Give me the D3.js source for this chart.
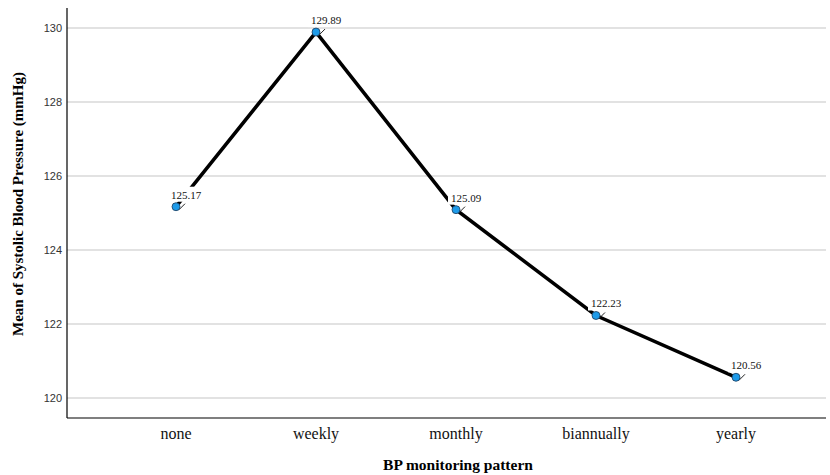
<!DOCTYPE html>
<html>
<head>
<meta charset="utf-8">
<script src="https://cdn.jsdelivr.net/npm/d3@7"></script>
<style>
  body { margin: 0; background: #fff; }
</style>
</head>
<body>
<script>
// data
var patterns = ["none", "weekly", "monthly", "biannually", "yearly"];
var meanSBP = [125.17, 129.89, 125.09, 122.23, 120.56];
var yTicks = [120, 122, 124, 126, 128, 130];

function main(){
    var canvasWidth = 830;
    var canvasHeight = 475;

    var svg = d3.select("body").append("svg")
        .attr("width", canvasWidth)
        .attr("height", canvasHeight);

    var left = 67, right = 826, top = 8, bottom = 418;

    var yScale = d3.scaleLinear().domain([120, 130]).range([398, 28]);
    var xScale = d3.scalePoint().domain(patterns).range([176, 736]);

    var data = patterns.map(function(p, i){ return {cat: p, val: meanSBP[i]}; });

    // gridlines
    svg.append("g")
        .selectAll("line")
        .data(yTicks)
        .enter().append("line")
        .attr("x1", left)
        .attr("x2", right)
        .attr("y1", d => yScale(d))
        .attr("y2", d => yScale(d))
        .attr("stroke", "#c6c6c6")
        .attr("stroke-width", 1.2);

    // y axis tick labels
    svg.append("g")
        .selectAll("text")
        .data(yTicks)
        .enter().append("text")
        .attr("x", 62)
        .attr("y", d => yScale(d) + 4)
        .attr("text-anchor", "end")
        .attr("font-family", "Liberation Sans, Arial, sans-serif")
        .attr("font-size", "11px")
        .attr("fill", "#333")
        .text(d => d);

    // axes lines
    svg.append("line")
        .attr("x1", left).attr("x2", left)
        .attr("y1", top).attr("y2", bottom)
        .attr("stroke", "#000").attr("stroke-width", 1.2);
    svg.append("line")
        .attr("x1", left).attr("x2", right)
        .attr("y1", bottom).attr("y2", bottom)
        .attr("stroke", "#000").attr("stroke-width", 1.2);

    // category labels
    svg.append("g")
        .selectAll("text")
        .data(patterns)
        .enter().append("text")
        .attr("x", d => xScale(d))
        .attr("y", 439)
        .attr("text-anchor", "middle")
        .attr("font-family", "Liberation Serif, Times New Roman, serif")
        .attr("font-size", "16px")
        .attr("fill", "#111")
        .text(d => d);

    // axis titles
    svg.append("text")
        .attr("x", 458)
        .attr("y", 470)
        .attr("text-anchor", "middle")
        .attr("font-family", "Liberation Serif, Times New Roman, serif")
        .attr("font-size", "15.5px")
        .attr("font-weight", "bold")
        .text("BP monitoring pattern");

    svg.append("text")
        .attr("transform", "translate(23," + 204 + ") rotate(-90)")
        .attr("text-anchor", "middle")
        .attr("font-family", "Liberation Serif, Times New Roman, serif")
        .attr("font-size", "15px")
        .attr("font-weight", "bold")
        .text("Mean of Systolic Blood Pressure (mmHg)");

    // the line
    var line = d3.line()
        .x(d => xScale(d.cat))
        .y(d => yScale(d.val));

    svg.append("path")
        .datum(data)
        .attr("d", line)
        .attr("fill", "none")
        .attr("stroke", "#000")
        .attr("stroke-width", 3.5);

    // value labels with white boxes
    var labels = svg.append("g")
        .selectAll("g")
        .data(data)
        .enter().append("g")
        .attr("transform", d => "translate(" + (xScale(d.cat) + 10) + "," + (yScale(d.val) - 8) + ")");

    labels.append("rect")
        .attr("x", -18)
        .attr("y", -12)
        .attr("width", 39)
        .attr("height", 15)
        .attr("fill", "#fff");

    labels.append("text")
        .attr("text-anchor", "middle")
        .attr("font-family", "Liberation Serif, Times New Roman, serif")
        .attr("font-size", "11px")
        .attr("fill", "#111")
        .text(d => d.val.toFixed(2));

    // leader lines
    svg.append("g")
        .selectAll("line")
        .data(data)
        .enter().append("line")
        .attr("x1", d => xScale(d.cat) + 3)
        .attr("y1", d => yScale(d.val) + 3)
        .attr("x2", d => xScale(d.cat) + 9)
        .attr("y2", d => yScale(d.val) - 3)
        .attr("stroke", "#222")
        .attr("stroke-width", 1);

    // markers
    svg.append("g")
        .selectAll("circle")
        .data(data)
        .enter().append("circle")
        .attr("cx", d => xScale(d.cat))
        .attr("cy", d => yScale(d.val))
        .attr("r", 4)
        .attr("fill", "#1e9be9")
        .attr("stroke", "#1a3a5a")
        .attr("stroke-width", 0.8);
}
main();
</script>
</body>
</html>
